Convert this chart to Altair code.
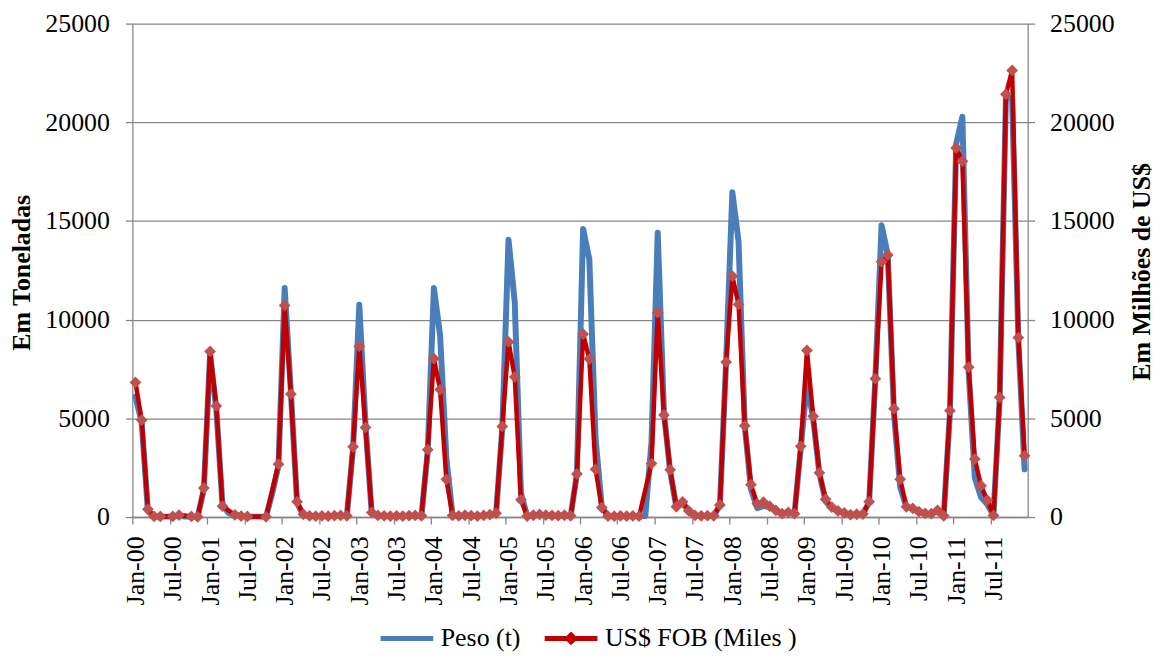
import altair as alt
import pandas as pd

# ---------------- data ----------------
tick_labels = ["Jan-00", "Jul-00", "Jan-01", "Jul-01", "Jan-02", "Jul-02",
               "Jan-03", "Jul-03", "Jan-04", "Jul-04", "Jan-05", "Jul-05",
               "Jan-06", "Jul-06", "Jan-07", "Jul-07", "Jan-08", "Jul-08",
               "Jan-09", "Jul-09", "Jan-10", "Jul-10", "Jan-11", "Jul-11"]

series_names = ["Peso (t)", "US$ FOB (Miles )"]

# Peso (t), monthly Jan-00 .. Dec-11
peso = [6100, 4800, 300, 30, 20, 20, 30, 60, 30, 20, 10, 1400,
        8250, 5500, 600, 200, 100, 50, 30, 20, 20, 10, 1200, 2600,
        11600, 6300, 700, 100, 50, 40, 50, 40, 60, 70, 50, 3500,
        10750, 4700, 200, 70, 50, 40, 50, 40, 60, 70, 50, 3300,
        11600, 9200, 3000, 80, 50, 80, 60, 40, 70, 110, 180, 4500,
        14050, 10900, 1200, 50, 80, 120, 90, 70, 60, 80, 50, 2200,
        14600, 13050, 4000, 500, 50, 40, 50, 40, 50, 40, 50, 3800,
        14400, 5300, 2300, 500, 700, 300, 70, 50, 60, 50, 600, 7900,
        16450, 13950, 4600, 1400, 450, 550, 500, 330, 170, 230, 170, 3500,
        6800, 5000, 2200, 800, 450, 300, 200, 120, 130, 150, 750, 7000,
        14780, 13300, 5200, 1500, 500, 430, 260, 180, 170, 330, 60, 5300,
        18900, 20280, 7400, 2000, 1000, 650, 80, 6000, 21300, 21200, 9000, 2420]

# US$ FOB (Miles), monthly Jan-00 .. Dec-11 (None = empty cell)
fob = [6820, 4910, 400, 30, 30, None, 30, 100, None, 30, 10, 1470,
       8390, 5630, 550, None, 110, 50, 30, None, None, 10, None, 2680,
       10720, 6230, 770, 140, 60, 40, 60, 40, 70, 80, 60, 3560,
       8650, 4540, 230, 80, 60, 50, 60, 50, 70, 80, 60, 3410,
       8020, 6460, 1910, 80, 60, 90, 70, 50, 80, 120, 190, 4590,
       8870, 7100, 870, 50, 90, 130, 100, 80, 70, 90, 60, 2180,
       9270, 8010, 2420, 480, 50, 40, 60, 50, 60, 40, None, 2710,
       10360, 5170, 2390, 520, 770, 310, 80, 60, 70, 60, 610, 7850,
       12200, 10770, 4620, 1640, 670, 750, 550, 340, 170, 240, 170, 3580,
       8440, 5110, 2240, 900, 500, 310, 210, 120, 140, 150, 780, 7010,
       12930, 13270, 5490, 1910, 520, 440, 270, 180, 170, 340, 60, 5390,
       18700, 18030, 7590, 2940, 1590, 860, 80, 6060, 21420, 22630, 9090, 3110]

y_ticks = [0, 5000, 10000, 15000, 20000, 25000]

# ---------------- styling ----------------
FONT = "Liberation Serif"
GRAY = "#868686"
BLUE = "#4A7EBB"
RED = "#C00000"
MARKER = "#C0504D"

n = len(peso)
mes = list(range(n))
df_peso = pd.DataFrame({"mes": mes, "valor": peso, "serie_peso": series_names[0]})
df_fob = pd.DataFrame({"mes": mes, "valor": fob, "serie_fob": series_names[1]})

arr = "[" + ",".join("'%s'" % s for s in tick_labels) + "]"
label_expr = arr + "[round((datum.value + 0.5) / 6)]"

x_enc = alt.X(
    "mes:Q",
    scale=alt.Scale(domain=[-0.5, n - 0.5], nice=False, zero=False),
    axis=alt.Axis(
        values=[-0.5 + 6 * k for k in range(len(tick_labels))],
        labelExpr=label_expr,
        labelAngle=270, labelAlign="right", labelBaseline="middle",
        labelOffset=3.125, labelPadding=12, labelFlush=False, labelOverlap=False,
        tickSize=7, grid=False, title=None,
    ),
)

y_scale = alt.Scale(domain=[0, 25000], nice=False, zero=True)

y_left = alt.Y(
    "valor:Q", scale=y_scale,
    axis=alt.Axis(
        values=y_ticks, format="d", title="Em Toneladas",
        titleX=-111, titleY=250, titleAngle=270, titleAlign="center",
        titleBaseline="middle", labelPadding=16, tickSize=7,
        grid=True, labelOverlap=False,
    ),
)

y_right = alt.Y(
    "valor:Q", scale=y_scale,
    axis=alt.Axis(
        orient="right", values=y_ticks, format="d", title="Em Milhões de US$",
        titleX=114, titleY=249, titleAngle=270, titleAlign="center",
        titleBaseline="middle", labelPadding=15, tickSize=7,
        grid=False, labelOverlap=False,
    ),
)

legend_common = dict(
    title=None, orient="none", direction="horizontal", symbolSize=2809,
    symbolStrokeWidth=5, labelFont=FONT, labelFontSize=26,
    labelColor="black", labelLimit=400, labelOffset=5,
)

color_enc = alt.Color(
    "serie_peso:N",
    scale=alt.Scale(domain=[series_names[0]], range=[BLUE]),
    legend=alt.Legend(legendX=247, legendY=589, symbolType="stroke",
                      **legend_common),
)

stroke_enc = alt.Stroke(
    "serie_fob:N",
    scale=alt.Scale(domain=[series_names[1]], range=[RED]),
    legend=alt.Legend(legendX=412, legendY=589,
                      symbolType="M-1,0L1,0M0,-0.13L0.13,0L0,0.13L-0.13,0Z",
                      symbolFillColor=MARKER, **legend_common),
)

blue = alt.Chart(df_peso).mark_line(
    strokeWidth=6, strokeCap="round", strokeJoin="round"
).encode(x=x_enc, y=y_left, color=color_enc)

red_line = alt.Chart(df_fob).transform_filter("isValid(datum.valor)").mark_line(
    strokeWidth=4.5, strokeJoin="round"
).encode(x=x_enc, y=y_right, stroke=stroke_enc)

red_pts = alt.Chart(df_fob).transform_filter("isValid(datum.valor)").mark_point(
    shape="diamond", filled=True, size=140, color=MARKER, opacity=1
).encode(x=x_enc, y=y_right)

chart = alt.layer(
    blue, alt.layer(red_line, red_pts)
).resolve_scale(
    y="independent"
).properties(
    width=900, height=496,
    autosize=alt.AutoSizeParams(type="none"),
    padding={"left": 125, "top": 14, "right": 130, "bottom": 134},
).configure(
    font=FONT
).configure_view(
    stroke="transparent"
).configure_axis(
    labelFont=FONT, titleFont=FONT, labelFontSize=26, titleFontSize=26,
    labelColor="black", titleColor="black", titleFontWeight="bold",
    domainColor=GRAY, tickColor=GRAY, gridColor=GRAY,
    domainWidth=1.3, tickWidth=1.3, gridWidth=1.3,
)

chart.save("out.html", embed_options={"renderer": "svg", "actions": False})
